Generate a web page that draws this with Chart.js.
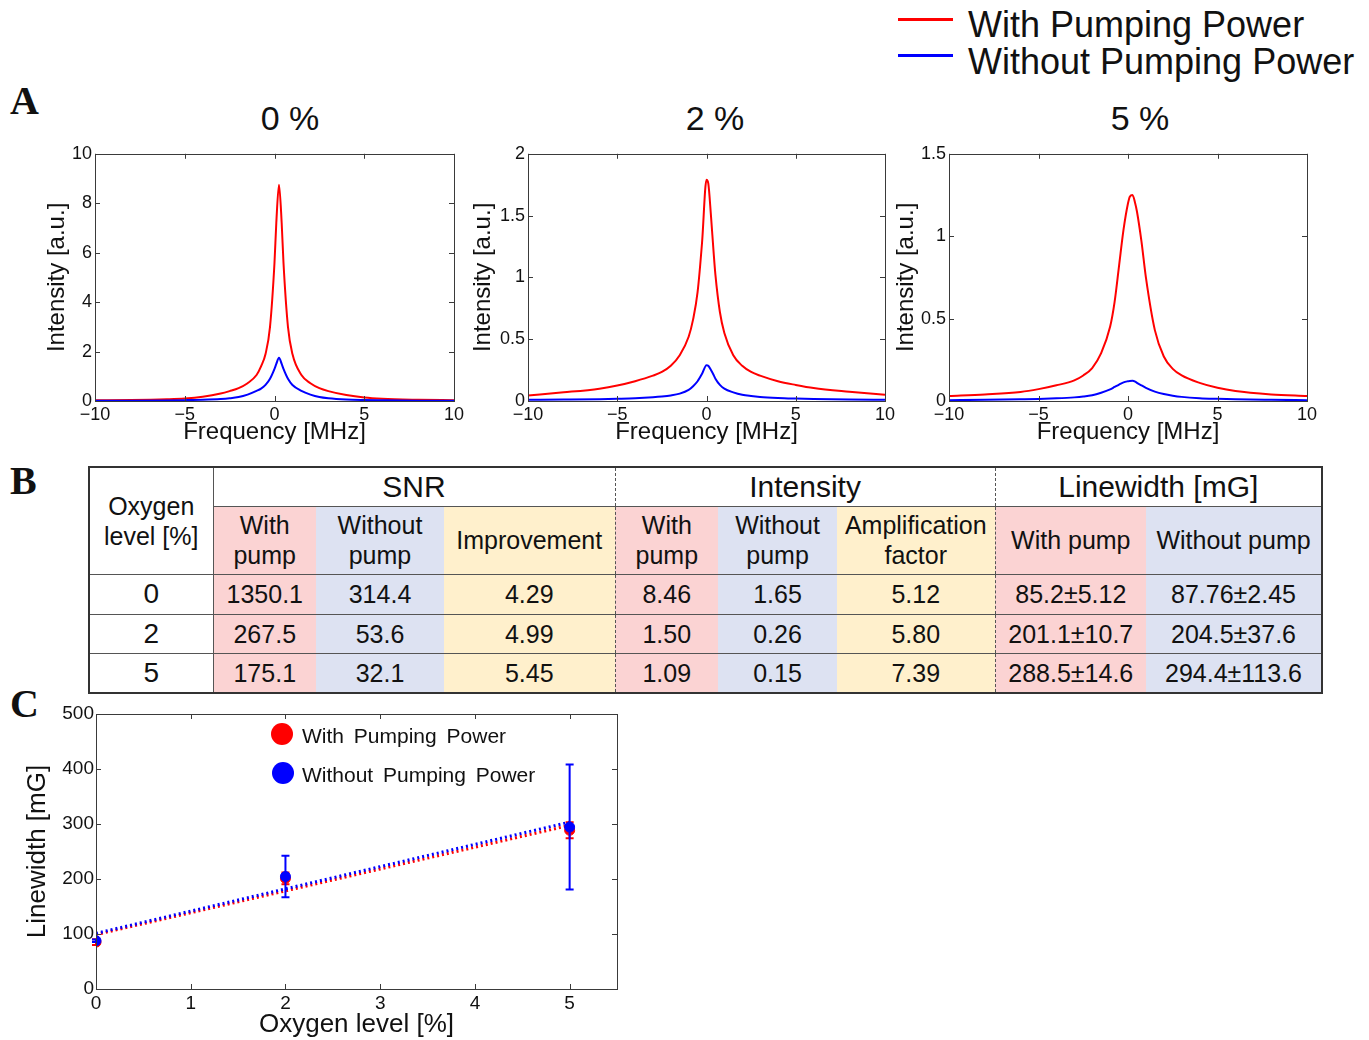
<!DOCTYPE html>
<html lang="en">
<head>
<meta charset="UTF-8">
<title>Linewidth vs oxygen level</title>
<script src="https://cdn.jsdelivr.net/npm/chart.js"></script>
<style>
  body { margin: 0; background: #fff; font-family: Arial, "Liberation Sans", sans-serif; color: #111; }
  #page { position: relative; width: 1369px; height: 1040px; overflow: hidden; }
  .abs { position: absolute; white-space: nowrap; }
  .letter { font-family: "Liberation Serif", "Times New Roman", serif; font-weight: bold; font-size: 40px; line-height: 40px; left: 10px; }
  .ptitle { font-size: 34px; line-height: 34px; width: 200px; text-align: center; top: 101px; }
  .legline { height: 3px; width: 55px; left: 898px; }
  .legtext { font-size: 36px; line-height: 36px; left: 968px; }
  .dot { width: 22px; height: 22px; border-radius: 50%; }
  .ctext { font-size: 21px; line-height: 21px; left: 302px; word-spacing: 4px; }
  #tbl { position: absolute; left: 88px; top: 466px; border-collapse: collapse; table-layout: fixed; width: 1233px; border: 2px solid #333; }
  #tbl td { padding: 0; text-align: center; font-size: 25px; line-height: 30px; border-top: 1.5px solid #555; }
  #tbl td.grp { font-size: 30px; background: #fff; }
  #tbl td.ox { font-size: 28px; background: #fff; border-right: 1px solid #555; }
  #tbl td.pk { background: #fbd3d3; }
  #tbl td.bl { background: #dde2f2; }
  #tbl td.yl { background: #fff0cc; }
  #tbl td.dash { border-right: 1px dashed #555; }
</style>
</head>
<body>
<div id="page">
  <div class="abs legline" style="top:18px;background:#ff0000"></div>
  <div class="abs legtext" style="top:7px">With Pumping Power</div>
  <div class="abs legline" style="top:54px;background:#0000ff"></div>
  <div class="abs legtext" style="top:44px">Without Pumping Power</div>

  <div class="abs letter" style="top:81px">A</div>
  <div class="abs letter" style="top:461px">B</div>
  <div class="abs letter" style="top:684px">C</div>

  <div class="abs ptitle" style="left:190px">0 %</div>
  <div class="abs ptitle" style="left:615px">2 %</div>
  <div class="abs ptitle" style="left:1040px">5 %</div>

  <div class="abs" style="left:30px;top:140px"><canvas id="spec0" width="440" height="310"></canvas></div>
  <div class="abs" style="left:463px;top:140px"><canvas id="spec2" width="440" height="310"></canvas></div>
  <div class="abs" style="left:884px;top:140px"><canvas id="spec5" width="440" height="310"></canvas></div>

  <table id="tbl"></table>

  <div class="abs" style="left:20px;top:700px"><canvas id="lw" width="610" height="340"></canvas></div>
  <div class="abs dot" style="left:271px;top:723px;background:#ff0000"></div>
  <div class="abs ctext" style="top:725px">With Pumping Power</div>
  <div class="abs dot" style="left:272px;top:762px;background:#0000ff"></div>
  <div class="abs ctext" style="top:764px">Without Pumping Power</div>
</div>

<script>
// spectra (panel A)
const freq  = [-10, -8, -6, -5, -4, -3, -2.5, -2, -1.5, -1, -0.75, -0.5, -0.25, 0, 0.1, 0.25, 0.4, 0.5, 0.75, 1, 1.5, 2, 2.5, 3, 4, 5, 6, 8, 10];
const red0  = [0.03, 0.04, 0.07, 0.1, 0.17, 0.3, 0.4, 0.52, 0.72, 1.05, 1.4, 1.9, 3.0, 5.6, 7.2, 8.75, 7.2, 5.6, 3.0, 1.9, 1.05, 0.72, 0.52, 0.4, 0.24, 0.14, 0.09, 0.05, 0.03];
const blue0 = [0.01, 0.015, 0.025, 0.035, 0.05, 0.08, 0.11, 0.16, 0.26, 0.41, 0.5, 0.65, 0.9, 1.3, 1.5, 1.75, 1.5, 1.3, 0.9, 0.65, 0.41, 0.26, 0.16, 0.11, 0.06, 0.04, 0.03, 0.015, 0.01];
const red2  = [0.045, 0.07, 0.1, 0.125, 0.16, 0.205, 0.235, 0.285, 0.37, 0.52, 0.66, 0.88, 1.28, 1.79, 1.76, 1.5, 1.2, 1.02, 0.72, 0.55, 0.37, 0.285, 0.235, 0.205, 0.16, 0.13, 0.105, 0.075, 0.05];
const blue2 = [0.01, 0.012, 0.015, 0.018, 0.022, 0.03, 0.036, 0.045, 0.06, 0.09, 0.12, 0.16, 0.22, 0.29, 0.285, 0.25, 0.21, 0.18, 0.13, 0.1, 0.07, 0.05, 0.04, 0.033, 0.025, 0.02, 0.016, 0.012, 0.01];
const red5  = [0.03, 0.04, 0.055, 0.072, 0.095, 0.125, 0.155, 0.2, 0.29, 0.45, 0.6, 0.82, 1.04, 1.2, 1.24, 1.25, 1.2, 1.15, 0.97, 0.75, 0.43, 0.27, 0.195, 0.155, 0.11, 0.08, 0.06, 0.04, 0.03];
const blue5 = [0.005, 0.007, 0.01, 0.012, 0.016, 0.022, 0.027, 0.035, 0.05, 0.07, 0.085, 0.1, 0.113, 0.12, 0.122, 0.123, 0.118, 0.11, 0.095, 0.08, 0.057, 0.042, 0.032, 0.025, 0.017, 0.013, 0.01, 0.007, 0.005];

// table (panel B)
const oxygenLevels   = [0, 2, 5];
const snrWith        = [1350.1, 267.5, 175.1];
const snrWithout     = [314.4, 53.6, 32.1];
const snrImprovement = [4.29, 4.99, 5.45];
const intWith        = [8.46, 1.50, 1.09];
const intWithout     = [1.65, 0.26, 0.15];
const ampFactor      = [5.12, 5.80, 7.39];
const lwWith         = [85.2, 201.1, 288.5];
const lwWithErr      = [5.12, 10.7, 14.6];
const lwWithout      = [87.76, 204.5, 294.4];
const lwWithoutErr   = [2.45, 37.6, 113.6];

// linear fits drawn in panel C (end points)
const fitX       = [0, 5];
const fitWith    = [98.9, 297.6];
const fitWithout = [101.2, 303.4];

const RED = '#ff0000', BLUE = '#0000ff';
const FONT = 'Arial, "Liberation Sans", sans-serif';
Chart.defaults.font.family = FONT;
Chart.defaults.color = '#111';

// matlab style box with inward ticks
const frameTicks = {
  id: 'frameTicks',
  afterDraw(chart) {
    const { ctx, chartArea: a, scales: { x, y } } = chart;
    ctx.save();
    ctx.strokeStyle = '#3a3a3a';
    ctx.lineWidth = 1;
    ctx.strokeRect(Math.round(a.left) + 0.5, Math.round(a.top) + 0.5, Math.round(a.right - a.left), Math.round(a.bottom - a.top));
    ctx.beginPath();
    x.ticks.forEach(t => {
      const px = Math.round(x.getPixelForValue(t.value)) + 0.5;
      ctx.moveTo(px, a.bottom); ctx.lineTo(px, a.bottom - 5);
      ctx.moveTo(px, a.top); ctx.lineTo(px, a.top + 5);
    });
    y.ticks.forEach(t => {
      const py = Math.round(y.getPixelForValue(t.value)) + 0.5;
      ctx.moveTo(a.left, py); ctx.lineTo(a.left + 5, py);
      ctx.moveTo(a.right, py); ctx.lineTo(a.right - 5, py);
    });
    ctx.stroke();
    ctx.restore();
  }
};

const errorBars = {
  id: 'errorBars',
  beforeDatasetDraw(chart, args) {
    const ds = chart.data.datasets[args.index];
    if (!ds.errors) return;
    const { ctx, scales: { x, y } } = chart;
    ctx.save();
    ctx.strokeStyle = ds.borderColor;
    ctx.lineWidth = 2;
    ds.data.forEach((p, i) => {
      const px = x.getPixelForValue(p.x);
      const lo = y.getPixelForValue(p.y - ds.errors[i]);
      const hi = y.getPixelForValue(p.y + ds.errors[i]);
      ctx.beginPath();
      ctx.moveTo(px, lo); ctx.lineTo(px, hi);
      ctx.moveTo(px - 4, lo); ctx.lineTo(px + 4, lo);
      ctx.moveTo(px - 4, hi); ctx.lineTo(px + 4, hi);
      ctx.stroke();
    });
    ctx.restore();
  }
};

const minus = v => (v < 0 ? '\u2212' + Math.abs(v) : String(v));

function makeSpectrum(id, red, blue, yMax, yStep, yTitlePad, padRight) {
  const pts = arr => arr.map((v, i) => ({ x: freq[i], y: v }));
  new Chart(document.getElementById(id), {
    type: 'line',
    data: {
      datasets: [
        { data: pts(blue), borderColor: BLUE, borderWidth: 2, pointRadius: 0, cubicInterpolationMode: 'monotone' },
        { data: pts(red), borderColor: RED, borderWidth: 2, pointRadius: 0, cubicInterpolationMode: 'monotone' }
      ]
    },
    options: {
      responsive: false,
      animation: false,
      layout: { padding: { top: 12, right: padRight, left: 0, bottom: 0 } },
      plugins: { legend: { display: false }, tooltip: { enabled: false } },
      scales: {
        x: {
          type: 'linear', min: -10, max: 10,
          grid: { display: false, drawTicks: false }, border: { display: false },
          ticks: { stepSize: 5, padding: 3, maxRotation: 0, font: { size: 18 }, callback: minus },
          title: { display: true, text: 'Frequency [MHz]', font: { size: 24 }, padding: { top: 0, bottom: 3 } },
          afterFit: s => { s.height = 49; }
        },
        y: {
          min: 0, max: yMax,
          grid: { display: false, drawTicks: false }, border: { display: false },
          ticks: { stepSize: yStep, padding: 3, font: { size: 18 }, callback: minus },
          title: { display: true, text: 'Intensity [a.u.]', font: { size: 24 }, padding: { top: yTitlePad, bottom: 0 } },
          afterFit: s => { s.width = 65; }
        }
      }
    },
    plugins: [frameTicks]
  });
}

makeSpectrum('spec0', red0, blue0, 10, 2, 13, 16);
makeSpectrum('spec2', red2, blue2, 2, 0.5, 6, 18);
makeSpectrum('spec5', red5, blue5, 1.5, 0.5, 8, 17);

// table
const tbl = document.getElementById('tbl');
const widths = [124, 103, 128, 171, 103, 119, 158, 151, 176];
let html = '<colgroup>' + widths.map(w => `<col style="width:${w}px">`).join('') + '</colgroup>';
html += '<tr style="height:39px"><td class="ox" rowspan="2" style="font-size:25px">Oxygen<br>level [%]</td>' +
  '<td class="grp dash" colspan="3">SNR</td><td class="grp dash" colspan="3">Intensity</td><td class="grp" colspan="2">Linewidth [mG]</td></tr>';
html += '<tr style="height:68px"><td class="pk">With<br>pump</td><td class="bl">Without<br>pump</td><td class="yl dash">Improvement</td>' +
  '<td class="pk">With<br>pump</td><td class="bl">Without<br>pump</td><td class="yl dash">Amplification<br>factor</td>' +
  '<td class="pk">With pump</td><td class="bl">Without pump</td></tr>';
oxygenLevels.forEach((o, i) => {
  html += `<tr style="height:${i === 1 ? 39 : 40}px"><td class="ox">${o}</td>` +
    `<td class="pk">${snrWith[i].toFixed(1)}</td><td class="bl">${snrWithout[i].toFixed(1)}</td><td class="yl dash">${snrImprovement[i].toFixed(2)}</td>` +
    `<td class="pk">${intWith[i].toFixed(2)}</td><td class="bl">${intWithout[i].toFixed(2)}</td><td class="yl dash">${ampFactor[i].toFixed(2)}</td>` +
    `<td class="pk">${lwWith[i]}\u00b1${lwWithErr[i]}</td><td class="bl">${lwWithout[i]}\u00b1${lwWithoutErr[i]}</td></tr>`;
});
tbl.innerHTML = html;

// panel C
const xy = (xs, ys) => ys.map((v, i) => ({ x: xs[i], y: v }));
new Chart(document.getElementById('lw'), {
  type: 'scatter',
  data: {
    datasets: [
      { data: xy(oxygenLevels, lwWithout), errors: lwWithoutErr, borderColor: BLUE, backgroundColor: BLUE, pointRadius: 5, order: 0 },
      { data: xy(oxygenLevels, lwWith), errors: lwWithErr, borderColor: RED, backgroundColor: RED, pointRadius: 5, order: 1 },
      { data: xy(fitX, fitWithout), showLine: true, borderColor: BLUE, borderWidth: 3, borderDash: [2, 3], pointRadius: 0, order: 2 },
      { data: xy(fitX, fitWith), showLine: true, borderColor: RED, borderWidth: 3, borderDash: [2, 3], pointRadius: 0, order: 3 }
    ]
  },
  options: {
    responsive: false,
    animation: false,
    layout: { padding: { top: 14, right: 13, left: 0, bottom: 0 } },
    plugins: { legend: { display: false }, tooltip: { enabled: false } },
    scales: {
      x: {
        type: 'linear', min: 0, max: 5.5,
        grid: { display: false, drawTicks: false }, border: { display: false },
        ticks: { stepSize: 1, includeBounds: false, autoSkip: false, padding: 3, maxRotation: 0, font: { size: 19 } },
        afterBuildTicks: s => { s.ticks = s.ticks.filter(t => Number.isInteger(t.value)); },
        title: { display: true, text: 'Oxygen level [%]', font: { size: 26 }, padding: { top: 0, bottom: 0 } },
        afterFit: s => { s.height = 51; }
      },
      y: {
        min: 0, max: 500,
        grid: { display: false, drawTicks: false }, border: { display: false },
        ticks: { stepSize: 100, padding: 2, font: { size: 19 } },
        title: { display: true, text: 'Linewidth [mG]', font: { size: 26 }, padding: { top: 2, bottom: 0 } },
        afterFit: s => { s.width = 76; }
      }
    }
  },
  plugins: [frameTicks, errorBars]
});
</script>
</body>
</html>
